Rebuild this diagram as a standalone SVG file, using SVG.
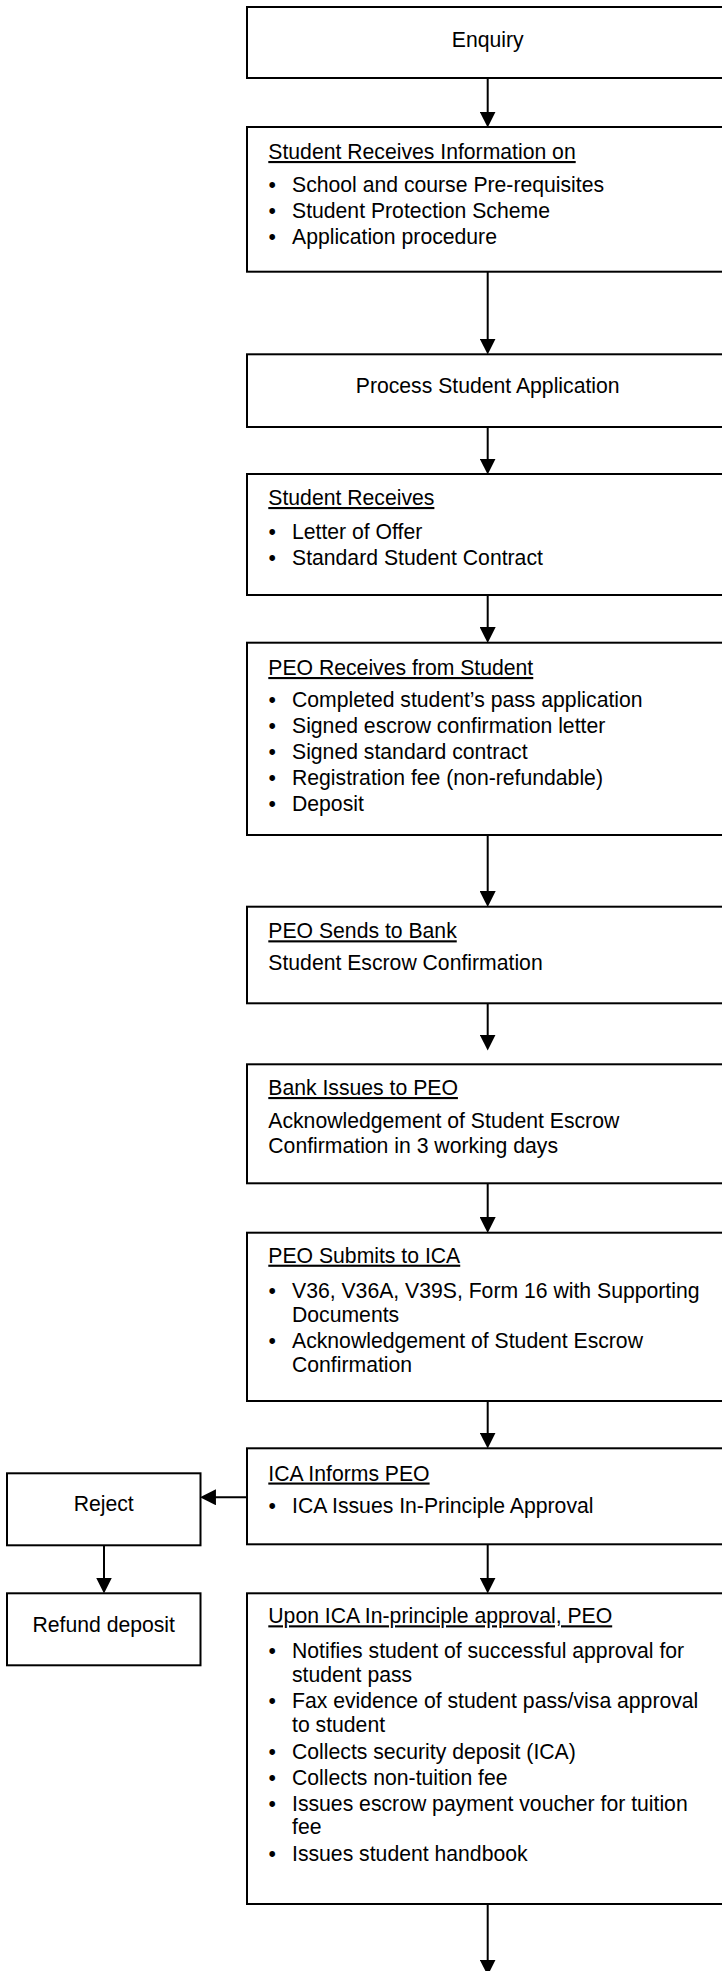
<svg xmlns="http://www.w3.org/2000/svg" width="722" height="1971" viewBox="0 0 722 1971">
<style>
  rect.box { fill: #fff; stroke: #000; stroke-width: 2; }
  text { font-family: "Liberation Sans", Arial, sans-serif; font-size: 21.2px; fill: #000; }
  .c { text-anchor: middle; }
  .h { text-decoration: underline; }
  .conn line { stroke: #000; stroke-width: 2; fill: none; }
</style>
<defs>
  <marker id="ah" markerUnits="userSpaceOnUse" markerWidth="16" markerHeight="16" viewBox="0 0 15 15" refX="7" refY="7.5" orient="auto">
    <path d="M0,0 L15,7.5 L0,15 Z" fill="#000"/>
  </marker>
</defs>
<rect x="0" y="0" width="722" height="1971" fill="#fff"/>

<g id="connectors" class="conn">
  <line x1="487.7" y1="78" x2="487.7" y2="119" marker-end="url(#ah)"/>
  <line x1="487.7" y1="271.7" x2="487.7" y2="346" marker-end="url(#ah)"/>
  <line x1="487.7" y1="427" x2="487.7" y2="466" marker-end="url(#ah)"/>
  <line x1="487.7" y1="595" x2="487.7" y2="634.5" marker-end="url(#ah)"/>
  <line x1="487.7" y1="835" x2="487.7" y2="898.5" marker-end="url(#ah)"/>
  <line x1="487.7" y1="1003.3" x2="487.7" y2="1042" marker-end="url(#ah)"/>
  <line x1="487.7" y1="1183.3" x2="487.7" y2="1224.5" marker-end="url(#ah)"/>
  <line x1="487.7" y1="1401" x2="487.7" y2="1440" marker-end="url(#ah)"/>
  <line x1="247" y1="1497.3" x2="208.5" y2="1497.3" marker-end="url(#ah)"/>
  <line x1="104" y1="1545.3" x2="104" y2="1585" marker-end="url(#ah)"/>
  <line x1="487.7" y1="1544.3" x2="487.7" y2="1585" marker-end="url(#ah)"/>
  <line x1="487.7" y1="1904" x2="487.7" y2="1967" marker-end="url(#ah)"/>
</g>

<g id="enquiry">
  <rect class="box" x="247" y="7" width="481" height="71"/>
  <text class="c" x="487.7" y="46.7">Enquiry</text>
</g>

<g id="student-receives-info">
  <rect class="box" x="247" y="127" width="481" height="144.7"/>
  <text class="h" x="268.3" y="159">Student Receives Information on</text>
  <text x="268.5" y="192.3">•</text><text x="292" y="192.3">School and course Pre-requisites</text>
  <text x="268.5" y="218.3">•</text><text x="292" y="218.3">Student Protection Scheme</text>
  <text x="268.5" y="244.3">•</text><text x="292" y="244.3">Application procedure</text>
</g>

<g id="process-application">
  <rect class="box" x="247" y="354.3" width="481" height="72.7"/>
  <text class="c" x="487.7" y="392.7">Process Student Application</text>
</g>

<g id="student-receives">
  <rect class="box" x="247" y="474" width="481" height="121"/>
  <text class="h" x="268.3" y="505">Student Receives</text>
  <text x="268.5" y="539">•</text><text x="292" y="539">Letter of Offer</text>
  <text x="268.5" y="565">•</text><text x="292" y="565">Standard Student Contract</text>
</g>

<g id="peo-receives">
  <rect class="box" x="247" y="642.7" width="481" height="192.3"/>
  <text class="h" x="268.3" y="675">PEO Receives from Student</text>
  <text x="268.5" y="707.3">•</text><text x="292" y="707.3">Completed student’s pass application</text>
  <text x="268.5" y="733.3">•</text><text x="292" y="733.3">Signed escrow confirmation letter</text>
  <text x="268.5" y="759">•</text><text x="292" y="759">Signed standard contract</text>
  <text x="268.5" y="785">•</text><text x="292" y="785">Registration fee (non-refundable)</text>
  <text x="268.5" y="810.7">•</text><text x="292" y="810.7">Deposit</text>
</g>

<g id="peo-sends-bank">
  <rect class="box" x="247" y="906.7" width="481" height="96.6"/>
  <text class="h" x="268.3" y="938.3">PEO Sends to Bank</text>
  <text x="268.3" y="970">Student Escrow Confirmation</text>
</g>

<g id="bank-issues">
  <rect class="box" x="247" y="1064.3" width="481" height="119"/>
  <text class="h" x="268.3" y="1095">Bank Issues to PEO</text>
  <text x="268.3" y="1128.3">Acknowledgement of Student Escrow</text>
  <text x="268.3" y="1153.3">Confirmation in 3 working days</text>
</g>

<g id="peo-submits-ica">
  <rect class="box" x="247" y="1232.7" width="481" height="168.3"/>
  <text class="h" x="268.3" y="1262.7">PEO Submits to ICA</text>
  <text x="268.5" y="1298.3">•</text><text x="292" y="1298.3">V36, V36A, V39S, Form 16 with Supporting</text>
  <text x="292" y="1321.7">Documents</text>
  <text x="268.5" y="1347.7">•</text><text x="292" y="1347.7">Acknowledgement of Student Escrow</text>
  <text x="292" y="1371.7">Confirmation</text>
</g>

<g id="ica-informs">
  <rect class="box" x="247" y="1448.3" width="481" height="96"/>
  <text class="h" x="268.3" y="1480.5">ICA Informs PEO</text>
  <text x="268.5" y="1513.3">•</text><text x="292" y="1513.3">ICA Issues In-Principle Approval</text>
</g>

<g id="reject">
  <rect class="box" x="7" y="1473.3" width="193.5" height="72"/>
  <text class="c" x="103.7" y="1510.7">Reject</text>
</g>

<g id="refund">
  <rect class="box" x="7" y="1593.3" width="193.5" height="72"/>
  <text class="c" x="103.7" y="1631.7">Refund deposit</text>
</g>

<g id="upon-approval">
  <rect class="box" x="247" y="1593.3" width="481" height="310.7"/>
  <text class="h" x="268.3" y="1623.3">Upon ICA In-principle approval, PEO</text>
  <text x="268.5" y="1658.3">•</text><text x="292" y="1658.3">Notifies student of successful approval for</text>
  <text x="292" y="1681.7">student pass</text>
  <text x="268.5" y="1707.7">•</text><text x="292" y="1707.7">Fax evidence of student pass/visa approval</text>
  <text x="292" y="1732">to student</text>
  <text x="268.5" y="1759.3">•</text><text x="292" y="1759.3">Collects security deposit (ICA)</text>
  <text x="268.5" y="1785">•</text><text x="292" y="1785">Collects non-tuition fee</text>
  <text x="268.5" y="1811">•</text><text x="292" y="1811">Issues escrow payment voucher for tuition</text>
  <text x="292" y="1834.3">fee</text>
  <text x="268.5" y="1861">•</text><text x="292" y="1861">Issues student handbook</text>
</g>
</svg>
